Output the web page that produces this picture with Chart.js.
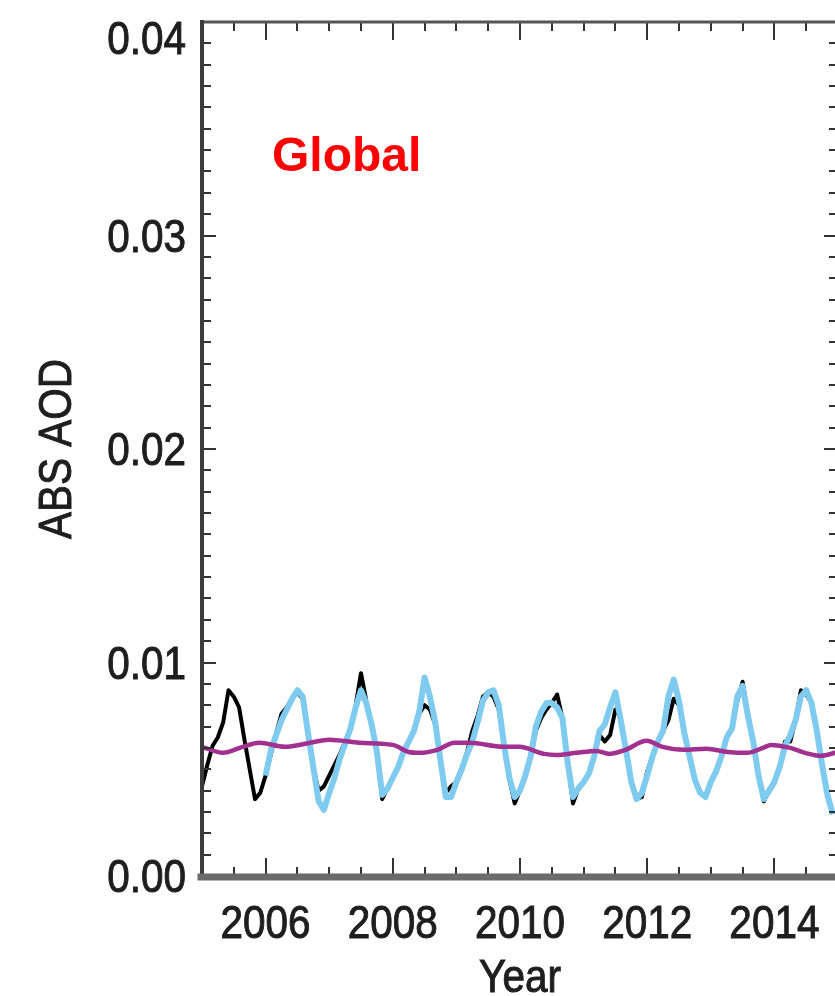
<!DOCTYPE html>
<html>
<head>
<meta charset="utf-8">
<script src="https://cdn.jsdelivr.net/npm/chart.js@4.4.0/dist/chart.umd.min.js"></script>
<style>
  html, body { margin: 0; padding: 0; background: #fff; overflow: hidden; }
  canvas { display: block; }
</style>
</head>
<body>
<canvas id="aodChart" width="860" height="1010"></canvas>
<script>
// monthly global absorbing AOD, one row per year (Jan..Dec)
const years = [2005, 2006, 2007, 2008, 2009, 2010, 2011, 2012, 2013, 2014];

const blackRows = [
  [0.0042, 0.0052, 0.0061, 0.0065, 0.0072, 0.0087, 0.0084, 0.0079, 0.0064, 0.0050, 0.0036, 0.0039],
  [0.0047, 0.0057, 0.0067, 0.0076, 0.0079, 0.0083, 0.0086, 0.0083, 0.0067, 0.0051, 0.0040, 0.0042],
  [0.0047, 0.0052, 0.0057, 0.0063, 0.0069, 0.0080, 0.0095, 0.0082, 0.0071, 0.0058, 0.0036, 0.0041],
  [0.0046, 0.0051, 0.0058, 0.0063, 0.0068, 0.0076, 0.0080, 0.0078, 0.0071, 0.0054, 0.0039, 0.0042],
  [0.0044, 0.0050, 0.0058, 0.0068, 0.0075, 0.0084, 0.0086, 0.0084, 0.0078, 0.0061, 0.0045, 0.0034],
  [0.0040, 0.0047, 0.0055, 0.0068, 0.0074, 0.0078, 0.0081, 0.0085, 0.0074, 0.0053, 0.0034, 0.0041],
  [0.0044, 0.0048, 0.0056, 0.0066, 0.0063, 0.0066, 0.0078, 0.0074, 0.0059, 0.0044, 0.0036, 0.0037],
  [0.0049, 0.0056, 0.0063, 0.0068, 0.0073, 0.0083, 0.0080, 0.0067, 0.0056, 0.0045, 0.0039, 0.0037],
  [0.0044, 0.0049, 0.0056, 0.0065, 0.0069, 0.0082, 0.0091, 0.0076, 0.0063, 0.0047, 0.0035, 0.0040],
  [0.0044, 0.0051, 0.0063, 0.0063, 0.0073, 0.0087, 0.0085, 0.0081, 0.0068, 0.0052, 0.0038, 0.0029]
];

const blueRows = [
  [null, null, null, null, null, null, null, null, null, null, null, null],
  [0.0047, 0.0059, 0.0066, 0.0073, 0.0078, 0.0083, 0.0087, 0.0084, 0.0067, 0.0051, 0.0035, 0.0031],
  [0.0039, 0.0046, 0.0055, 0.0062, 0.0069, 0.0079, 0.0087, 0.0081, 0.0071, 0.0058, 0.0038, 0.0041],
  [0.0046, 0.0051, 0.0058, 0.0063, 0.0068, 0.0077, 0.0093, 0.0084, 0.0072, 0.0054, 0.0037, 0.0037],
  [0.0044, 0.0050, 0.0057, 0.0063, 0.0072, 0.0082, 0.0086, 0.0087, 0.0080, 0.0061, 0.0046, 0.0037],
  [0.0040, 0.0047, 0.0056, 0.0070, 0.0077, 0.0081, 0.0081, 0.0079, 0.0074, 0.0053, 0.0037, 0.0041],
  [0.0044, 0.0048, 0.0056, 0.0068, 0.0071, 0.0079, 0.0086, 0.0073, 0.0059, 0.0044, 0.0036, 0.0039],
  [0.0047, 0.0056, 0.0063, 0.0068, 0.0084, 0.0092, 0.0082, 0.0067, 0.0056, 0.0045, 0.0039, 0.0037],
  [0.0044, 0.0049, 0.0056, 0.0065, 0.0069, 0.0084, 0.0089, 0.0075, 0.0063, 0.0047, 0.0036, 0.0040],
  [0.0044, 0.0051, 0.0061, 0.0066, 0.0073, 0.0084, 0.0087, 0.0081, 0.0068, 0.0052, 0.0038, 0.0029]
];

// smoothed (running mean) curve
const smoothYears = [2005.0, 2005.33, 2005.64, 2005.9, 2006.3, 2006.7, 2007.0, 2007.48, 2008.0, 2008.25,
  2008.42, 2008.7, 2008.97, 2009.21, 2009.73, 2009.99, 2010.38, 2010.57, 2010.89, 2011.2,
  2011.41, 2011.66, 2011.99, 2012.24, 2012.58, 2012.93, 2013.27, 2013.57, 2013.82, 2013.95,
  2014.25, 2014.48, 2014.73, 2015.0];
const smoothValues = [0.00605, 0.00577, 0.00605, 0.00624, 0.00605, 0.00624, 0.00638, 0.00624, 0.00614, 0.00581,
  0.00577, 0.00591, 0.00624, 0.00624, 0.00605, 0.00605, 0.00572, 0.00567, 0.00577, 0.00586,
  0.00572, 0.00591, 0.00633, 0.00605, 0.00591, 0.00596, 0.00581, 0.00577, 0.00600, 0.00614,
  0.00600, 0.00577, 0.00563, 0.00581];

const xTickValues = [2006, 2008, 2010, 2012, 2014];
const yTickValues = [0, 0.01, 0.02, 0.03, 0.04];
const xTitle = 'Year';
const yTitle = 'ABS AOD';
const panelLabel = { text: 'Global', x: 2006.1, y: 0.033 };

function monthlyPoints(rows) {
  const pts = [];
  rows.forEach((row, i) => {
    row.forEach((v, m) => pts.push({ x: years[i] + m / 12, y: v }));
  });
  return pts;
}

// the original uses a narrow Helvetica; squeeze Liberation Sans to match
const LABEL_FONT = "46px 'Liberation Sans', Arial, sans-serif";
const SQUEEZE = 0.88;

function narrowText(ctx, text, x, y, align, angle) {
  ctx.save();
  ctx.translate(x, y);
  if (angle) ctx.rotate(angle);
  ctx.scale(SQUEEZE, 1);
  ctx.textAlign = align;
  ctx.fillText(text, 0, 0);
  ctx.strokeText(text, 0, 0);
  ctx.restore();
}

// box, inward tick marks, axis labels and the red panel label
const framePlugin = {
  id: 'frame',
  afterDatasetsDraw(chart) {
    const { ctx, chartArea: a, scales } = chart;
    const xs = scales.x, ys = scales.y;
    ctx.save();

    ctx.strokeStyle = '#333';
    ctx.lineWidth = 2;
    ctx.beginPath();
    for (let i = 0; i <= 40; i++) {
      const py = Math.round(ys.getPixelForValue(i * 0.001));
      const len = i % 10 === 0 ? 14 : 9;
      ctx.moveTo(a.left, py); ctx.lineTo(a.left + len, py);
      ctx.moveTo(a.right, py); ctx.lineTo(a.right - len, py);
    }
    for (let i = 0; i <= 20; i++) {
      const yr = 2005 + i * 0.5;
      const px = Math.round(xs.getPixelForValue(yr));
      const len = yr % 2 === 0 ? 18 : 9;
      ctx.moveTo(px, a.bottom); ctx.lineTo(px, a.bottom - len);
      ctx.moveTo(px, a.top); ctx.lineTo(px, a.top + len);
    }
    ctx.stroke();

    // axis lines
    ctx.lineCap = 'square';
    ctx.strokeStyle = '#555';
    ctx.lineWidth = 3;
    ctx.beginPath();
    ctx.moveTo(a.left, a.top); ctx.lineTo(a.right, a.top);
    ctx.moveTo(a.right, a.top); ctx.lineTo(a.right, a.bottom);
    ctx.stroke();

    ctx.strokeStyle = '#3c3c3c';
    ctx.lineWidth = 4;
    ctx.beginPath();
    ctx.moveTo(a.left, a.top); ctx.lineTo(a.left, a.bottom);
    ctx.stroke();

    ctx.strokeStyle = '#6a6a6a';
    ctx.lineWidth = 7;
    ctx.beginPath();
    ctx.moveTo(a.left - 1, a.bottom + 1); ctx.lineTo(a.right, a.bottom + 1);
    ctx.stroke();

    // tick labels and titles
    ctx.fillStyle = '#1e1e1e';
    ctx.strokeStyle = '#1e1e1e';
    ctx.lineWidth = 1;
    ctx.lineCap = 'butt';
    ctx.font = LABEL_FONT;
    ctx.textBaseline = 'alphabetic';
    yTickValues.forEach(v => {
      const py = Math.max(ys.getPixelForValue(v), a.top + 16);
      narrowText(ctx, v.toFixed(2), a.left - 16, py + 16, 'right');
    });
    xTickValues.forEach(v => {
      narrowText(ctx, String(v), xs.getPixelForValue(v), a.bottom + 62, 'center');
    });
    narrowText(ctx, xTitle, (a.left + a.right) / 2, a.bottom + 116, 'center');
    narrowText(ctx, yTitle, 71, (a.top + a.bottom) / 2, 'center', -Math.PI / 2);

    ctx.fillStyle = '#ff0000';
    ctx.font = "bold 48px 'Liberation Sans', Arial, sans-serif";
    ctx.textAlign = 'left';
    ctx.fillText(panelLabel.text, xs.getPixelForValue(panelLabel.x), ys.getPixelForValue(panelLabel.y));
    ctx.restore();
  }
};

new Chart(document.getElementById('aodChart'), {
  type: 'line',
  data: {
    datasets: [
      {
        label: 'smoothed',
        data: smoothYears.map((x, i) => ({ x: x, y: smoothValues[i] })),
        borderColor: '#a2308e',
        borderWidth: 4.5,
        cubicInterpolationMode: 'monotone',
        pointRadius: 0,
        order: 0
      },
      {
        label: 'series 2',
        data: monthlyPoints(blueRows),
        borderColor: '#7ecbef',
        borderWidth: 6,
        borderJoinStyle: 'round',
        pointRadius: 0,
        tension: 0,
        spanGaps: false,
        order: 1
      },
      {
        label: 'series 1',
        data: monthlyPoints(blackRows),
        borderColor: '#000000',
        borderWidth: 4,
        borderJoinStyle: 'round',
        pointRadius: 0,
        tension: 0,
        order: 2
      }
    ]
  },
  options: {
    responsive: false,
    animation: false,
    layout: { autoPadding: false, padding: { left: 0, top: 22, right: 22, bottom: 0 } },
    plugins: { legend: { display: false }, tooltip: { enabled: false } },
    scales: {
      x: {
        type: 'linear',
        min: 2005,
        max: 2015,
        afterFit: s => { s.height = 134; },
        grid: { display: false, drawTicks: false },
        border: { display: false },
        ticks: { display: false }
      },
      y: {
        min: 0,
        max: 0.04,
        afterFit: s => { s.width = 202; },
        grid: { display: false, drawTicks: false },
        border: { display: false },
        ticks: { display: false }
      }
    }
  },
  plugins: [framePlugin]
});
</script>
</body>
</html>
